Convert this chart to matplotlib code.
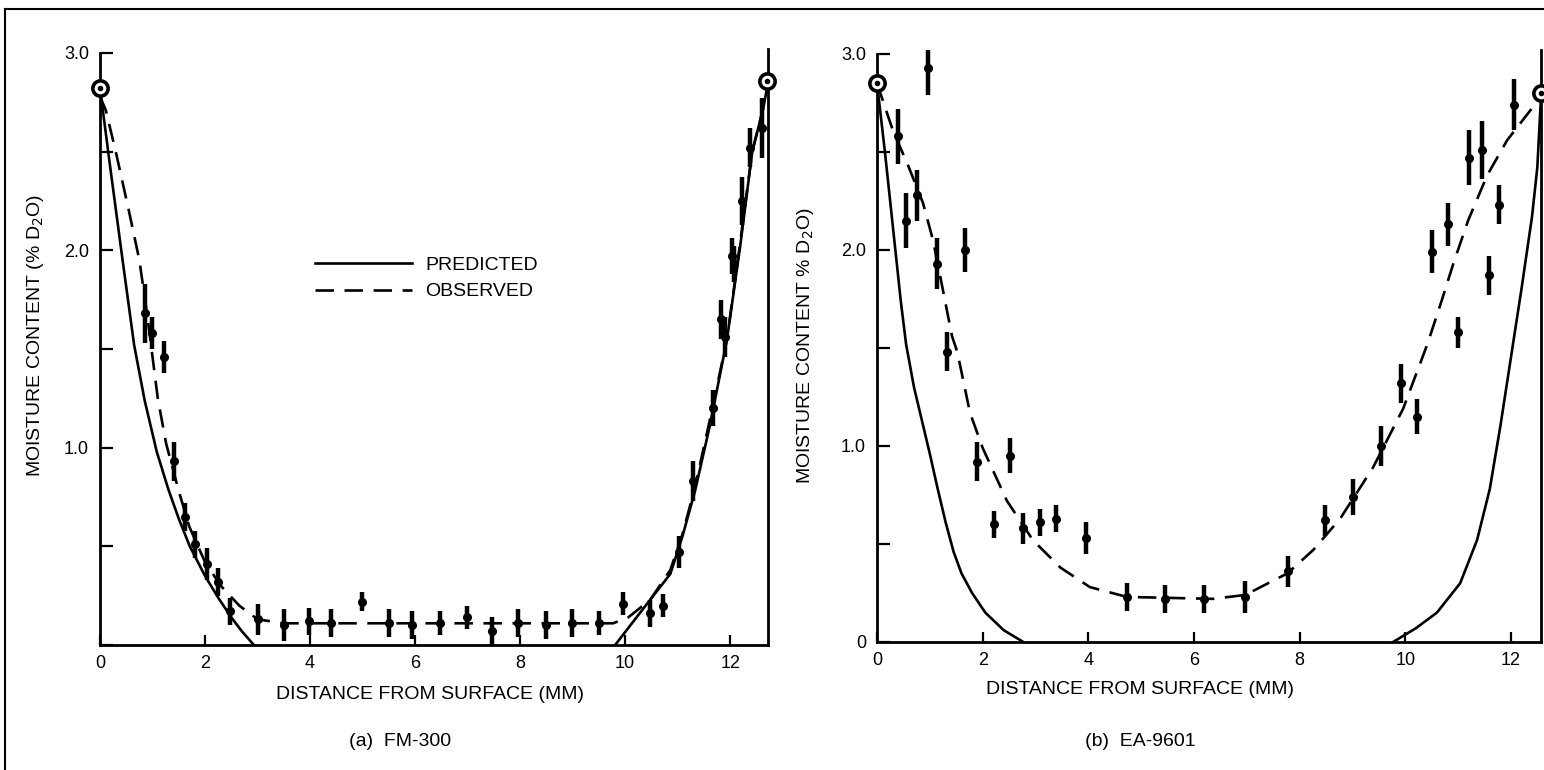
import matplotlib.pyplot as plt
from matplotlib.lines import Line2D

plt.rcParams['font.family'] = ['Liberation Sans', 'DejaVu Sans']

# (a) FM-300 : measured points
pts_a_x = [0.85, 0.99, 1.22, 1.41, 1.62, 1.81, 2.04, 2.25, 2.48, 3.0, 3.5, 3.98, 4.4,
           4.99, 5.5, 5.95, 6.48, 6.99, 7.46, 7.95, 8.5, 8.99, 9.5, 9.96, 10.48, 10.72,
           11.03, 11.3, 11.67, 11.83, 11.9, 12.03, 12.07, 12.23, 12.38, 12.6]
pts_a_y = [1.68, 1.58, 1.46, 0.93, 0.65, 0.51, 0.41, 0.32, 0.17, 0.13, 0.10, 0.12, 0.11,
           0.22, 0.11, 0.10, 0.11, 0.14, 0.07, 0.11, 0.10, 0.11, 0.11, 0.21, 0.16, 0.20,
           0.47, 0.83, 1.20, 1.65, 1.56, 1.97, 1.93, 2.25, 2.52, 2.62]
err_a = [0.15, 0.08, 0.08, 0.10, 0.07, 0.07, 0.08, 0.07, 0.07, 0.08, 0.08, 0.07, 0.07,
         0.05, 0.07, 0.07, 0.06, 0.06, 0.07, 0.07, 0.07, 0.07, 0.06, 0.06, 0.07, 0.06,
         0.08, 0.10, 0.09, 0.10, 0.10, 0.09, 0.09, 0.12, 0.10, 0.15]
# surface values (open circles)
surf_a_x = [0.0, 12.7]
surf_a_y = [2.82, 2.86]
# predicted curves (one per surface)
pred_a1_x = [0, 0.2, 0.42, 0.65, 0.85, 1.08, 1.3, 1.5, 1.71, 2.0, 2.25, 2.5, 2.7, 2.93]
pred_a1_y = [2.82, 2.41, 1.97, 1.52, 1.24, 0.98, 0.79, 0.64, 0.5, 0.35, 0.24, 0.14, 0.07, 0.0]
pred_a2_x = [9.81, 10.1, 10.42, 10.86, 11.09, 11.33, 11.62, 11.94, 12.19, 12.42, 12.63, 12.7]
pred_a2_y = [0.0, 0.1, 0.21, 0.36, 0.55, 0.78, 1.12, 1.55, 2.02, 2.5, 2.72, 2.82]
# observed curve
obs_a_x = [0, 0.11, 0.3, 0.55, 0.75, 0.91, 1.1, 1.26, 1.5, 1.7, 2.0, 2.3, 2.65, 3.0, 3.5,
           9.77, 10.06, 10.48, 10.86, 11.09, 11.33, 11.62, 11.94, 12.19, 12.42, 12.63]
obs_a_y = [2.78, 2.71, 2.5, 2.2, 1.95, 1.65, 1.25, 1.02, 0.78, 0.6, 0.42, 0.3, 0.2, 0.13, 0.11,
           0.11, 0.14, 0.23, 0.38, 0.56, 0.8, 1.15, 1.55, 2.04, 2.5, 2.72]

# (b) EA-9601
pts_b_x = [0.4, 0.55, 0.76, 0.97, 1.14, 1.33, 1.67, 1.89, 2.22, 2.52, 2.77, 3.09, 3.39,
           3.96, 4.73, 5.45, 6.19, 6.97, 7.78, 8.48, 9.02, 9.55, 9.92, 10.23, 10.51, 10.8,
           11.0, 11.21, 11.46, 11.59, 11.78, 12.05]
pts_b_y = [2.58, 2.15, 2.28, 2.93, 1.93, 1.48, 2.0, 0.92, 0.6, 0.95, 0.58, 0.61, 0.63,
           0.53, 0.23, 0.22, 0.22, 0.23, 0.36, 0.62, 0.74, 1.0, 1.32, 1.15, 1.99, 2.13,
           1.58, 2.47, 2.51, 1.87, 2.23, 2.74]
err_b = [0.14, 0.14, 0.13, 0.14, 0.13, 0.10, 0.11, 0.10, 0.07, 0.09, 0.08, 0.07, 0.07,
         0.08, 0.07, 0.07, 0.07, 0.08, 0.08, 0.08, 0.09, 0.10, 0.10, 0.09, 0.11, 0.11,
         0.08, 0.14, 0.15, 0.10, 0.10, 0.13]
surf_b_x = [0.0, 12.57]
surf_b_y = [2.85, 2.8]
pred_b1_x = [0, 0.15, 0.3, 0.45, 0.55, 0.7, 0.85, 1.0, 1.15, 1.3, 1.45, 1.6, 1.8, 2.05, 2.4, 2.77]
pred_b1_y = [2.85, 2.5, 2.12, 1.74, 1.52, 1.3, 1.13, 0.96, 0.78, 0.61, 0.46, 0.35, 0.25, 0.15, 0.06, 0.0]
pred_b2_x = [9.77, 10.2, 10.6, 11.04, 11.36, 11.6, 11.8, 12.0, 12.2, 12.4, 12.5, 12.57]
pred_b2_y = [0.0, 0.07, 0.15, 0.3, 0.52, 0.78, 1.1, 1.45, 1.8, 2.17, 2.42, 2.78]
obs_b_x = [0, 0.3, 0.59, 0.87, 1.06, 1.23, 1.42, 1.52, 1.76, 2.0, 2.46, 2.95, 3.47, 4.03,
           4.73, 6.36, 6.97, 7.77, 8.26, 8.77, 9.39, 9.96, 10.42, 10.7, 10.91, 11.19, 11.55,
           11.93, 12.42, 12.55]
obs_b_y = [2.85, 2.61, 2.43, 2.24, 2.05, 1.82, 1.56, 1.48, 1.17, 0.99, 0.72, 0.52, 0.38, 0.28,
           0.23, 0.22, 0.24, 0.35, 0.47, 0.63, 0.89, 1.19, 1.52, 1.75, 1.93, 2.15, 2.38,
           2.56, 2.73, 2.8]

x_ticks = [0, 2, 4, 6, 8, 10, 12]
y_ticks = [0, 0.5, 1.0, 1.5, 2.0, 2.5, 3.0]

fig = plt.figure(figsize=(15.44, 7.7), dpi=100)
ax_a = fig.add_axes([100 / 1544, 125 / 770, 668 / 1544, 596 / 770])
ax_b = fig.add_axes([877 / 1544, 128 / 770, 664 / 1544, 592 / 770])

DASH = (7, 4)


def draw(ax, px, py, err, sx, sy, p1x, p1y, p2x, p2y, ox, oy, xmax, ylabels):
    ax.plot(p1x, p1y, color='black', lw=1.9, label='PREDICTED')
    ax.plot(p2x, p2y, color='black', lw=1.9)
    ax.plot(ox, oy, color='black', lw=1.9, dashes=DASH, label='OBSERVED')
    ax.errorbar(px, py, yerr=err, fmt='o', color='black', ms=5.5, elinewidth=3.2,
                capsize=0)
    ax.plot(sx, sy, 'o', ms=11, mfc='white', mec='black', mew=2.6, clip_on=False, zorder=5)
    ax.plot(sx, sy, 'o', ms=3, color='black', clip_on=False, zorder=6)
    ax.set_xlim(0, xmax)
    ax.set_ylim(0, 3.02)
    ax.spines['top'].set_visible(False)
    ax.spines['left'].set_bounds(0, 3.0)
    for s in ['left', 'bottom', 'right']:
        ax.spines[s].set_linewidth(2.0)
    ax.set_xticks(x_ticks)
    ax.set_xticklabels([str(t) for t in x_ticks], fontsize=13)
    ax.set_yticks(y_ticks)
    ax.set_yticklabels(ylabels, fontsize=13)
    ax.tick_params(axis='y', direction='in', length=9, width=1.6, pad=8)
    ax.tick_params(axis='x', direction='in', length=7, width=1.6, pad=7)


draw(ax_a, pts_a_x, pts_a_y, err_a, surf_a_x, surf_a_y, pred_a1_x, pred_a1_y,
     pred_a2_x, pred_a2_y, obs_a_x, obs_a_y, 12.72,
     ['', '', '1.0', '', '2.0', '', '3.0'])
draw(ax_b, pts_b_x, pts_b_y, err_b, surf_b_x, surf_b_y, pred_b1_x, pred_b1_y,
     pred_b2_x, pred_b2_y, obs_b_x, obs_b_y, 12.57,
     ['0', '', '1.0', '', '2.0', '', '3.0'])

ax_a.set_ylabel('MOISTURE CONTENT (% D$_2$O)', fontsize=14)
ax_a.yaxis.set_label_coords(-0.081, 0.52)
ax_b.set_ylabel('MOISTURE CONTENT % D$_2$O)', fontsize=14)
ax_b.yaxis.set_label_coords(-0.092, 0.5)
ax_a.set_xlabel('DISTANCE FROM SURFACE (MM)', fontsize=14)
ax_a.xaxis.set_label_coords(0.494, -0.068)
ax_b.set_xlabel('DISTANCE FROM SURFACE (MM)', fontsize=14)
ax_b.xaxis.set_label_coords(0.396, -0.066)

ax_a.legend(loc='upper left', bbox_to_anchor=(0.322, 0.652), frameon=False,
            fontsize=14, handlelength=5.0, handletextpad=0.67, labelspacing=0.45,
            borderpad=0, borderaxespad=0)

fig.text(400 / 1544, 1 - 742 / 770, '(a)  FM-300', ha='center', va='center', fontsize=14)
fig.text(1140 / 1544, 1 - 742 / 770, '(b)  EA-9601', ha='center', va='center', fontsize=14)

# page frame
fig.add_artist(Line2D([5 / 1544, 5 / 1544], [0, 1 - 9 / 770], color='black', lw=1.5))
fig.add_artist(Line2D([5 / 1544, 1], [1 - 9 / 770, 1 - 9 / 770], color='black', lw=1.5))

fig.savefig('out.png', dpi=100)
